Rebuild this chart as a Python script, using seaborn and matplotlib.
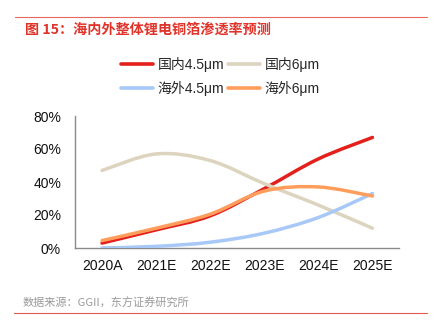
import numpy as np
import pandas as pd
import matplotlib
matplotlib.use("Agg")
import matplotlib.pyplot as plt
import seaborn as sns
from matplotlib.path import Path
from matplotlib.patches import PathPatch
from matplotlib.lines import Line2D

# Penetration rate of lithium copper foil (%), domestic vs overseas
years = ["2020A", "2021E", "2022E", "2023E", "2024E", "2025E"]
dom_45 = [3, 11, 19.5, 36, 54, 67]
dom_6 = [47, 57, 53, 39, 26, 12]
ovs_45 = [0, 1, 3.5, 9, 18.5, 33]
ovs_6 = [4.5, 12, 20.5, 34.5, 37, 31.5]
series_names = ["国内4.5μm", "国内6μm", "海外4.5μm", "海外6μm"]
colors = ["#E3201B", "#DDD4BF", "#A8C8F8", "#FF9E5C"]
y_ticks = [0, 20, 40, 60, 80]

sns.set_theme(style="white")
plt.rcParams["font.family"] = ["Liberation Sans", "Noto Sans CJK SC", "DejaVu Sans"]

df = pd.DataFrame({
    "pos": np.tile(np.arange(len(years)), 4),
    "value": dom_45 + dom_6 + ovs_45 + ovs_6,
    "series": np.repeat(series_names, len(years)),
})

fig = plt.figure(figsize=(4.35, 3.25), dpi=100)
ax = fig.add_axes([75 / 435, 77 / 325, 324.5 / 435, 132 / 325])

sns.lineplot(data=df, x="pos", y="value", hue="series", hue_order=series_names,
             palette=dict(zip(series_names, colors)), legend=False, ax=ax,
             linewidth=2.5, sort=False)


def smooth_path(xy):
    """Cubic Bezier path passing through every point (Catmull-Rom tangents)."""
    pts = np.asarray(xy, dtype=float)
    ext = np.vstack([pts[0], pts, pts[-1]])
    verts = [pts[0]]
    codes = [Path.MOVETO]
    for i in range(len(pts) - 1):
        p0, p1, p2, p3 = ext[i], ext[i + 1], ext[i + 2], ext[i + 3]
        c1 = p1 + (p2 - p0) / 6.0
        c2 = p2 - (p3 - p1) / 6.0
        verts += [c1, c2, p2]
        codes += [Path.CURVE4] * 3
    return Path(verts, codes)


# Replace the straight polylines with smoothed curves
for z, line in enumerate(list(ax.lines)):
    patch = PathPatch(smooth_path(line.get_xydata()), facecolor="none",
                      edgecolor=line.get_color(), lw=2.5, capstyle="round",
                      joinstyle="round", zorder=3 + z)
    ax.add_patch(patch)
    line.set_visible(False)

ax.set_xlim(-0.5, len(years) - 0.5)
ax.set_ylim(0, 80)
ax.set_xticks(np.arange(-0.5, len(years), 1.0))
ax.set_xticklabels([])
ax.set_xticks(np.arange(len(years)), minor=True)
ax.set_xticklabels(years, minor=True)
ax.set_yticks(y_ticks)
ax.set_yticklabels([f"{v}%" for v in y_ticks])
ax.set_xlabel("")
ax.set_ylabel("")

axis_gray = "#8a8a8a"
ax.tick_params(axis="x", which="major", direction="in", length=4, width=1, color=axis_gray)
ax.tick_params(axis="x", which="minor", length=0, pad=8, labelsize=10, labelcolor="#111111")
ax.tick_params(axis="y", direction="in", length=4, width=1, color=axis_gray,
               pad=10, labelsize=10, labelcolor="#111111")
for side in ("top", "right"):
    ax.spines[side].set_visible(False)
for side in ("left", "bottom"):
    ax.spines[side].set_color(axis_gray)
    ax.spines[side].set_linewidth(1)

# Legend: two rows, two columns
order = [0, 2, 1, 3]
handles = [Line2D([], [], color=colors[i], lw=2.6, solid_capstyle="round") for i in order]
labels = [series_names[i] for i in order]
fig.legend(handles, labels, ncol=2, loc="upper left",
           bbox_to_anchor=(121 / 435, 1 - 57 / 325), frameon=False,
           fontsize=10, handlelength=2.3, handletextpad=0.35,
           columnspacing=0.25, labelspacing=0.65, borderpad=0, borderaxespad=0)

# Header and footer
fig.add_artist(Line2D([15 / 435, 427 / 435], [1 - 16.7 / 325] * 2, color="#E8675D", lw=0.8))
fig.text(25 / 435, 1 - 30 / 325, "图 15：海内外整体锂电铜箔渗透率预测", color="#E0342B",
         fontsize=10.2, fontweight="bold", va="center",
         family=["Noto Sans CJK SC", "DejaVu Sans"])
fig.text(23 / 435, 1 - 303 / 325, "数据来源：GGII，东方证券研究所", color="#9a9a9a",
         fontsize=8, va="center", family=["Noto Sans CJK SC", "DejaVu Sans"])
fig.add_artist(Line2D([14 / 435, 427 / 435], [1 - 312.7 / 325] * 2, color="#E05A4E", lw=0.8))

fig.savefig("out.png", dpi=100)
